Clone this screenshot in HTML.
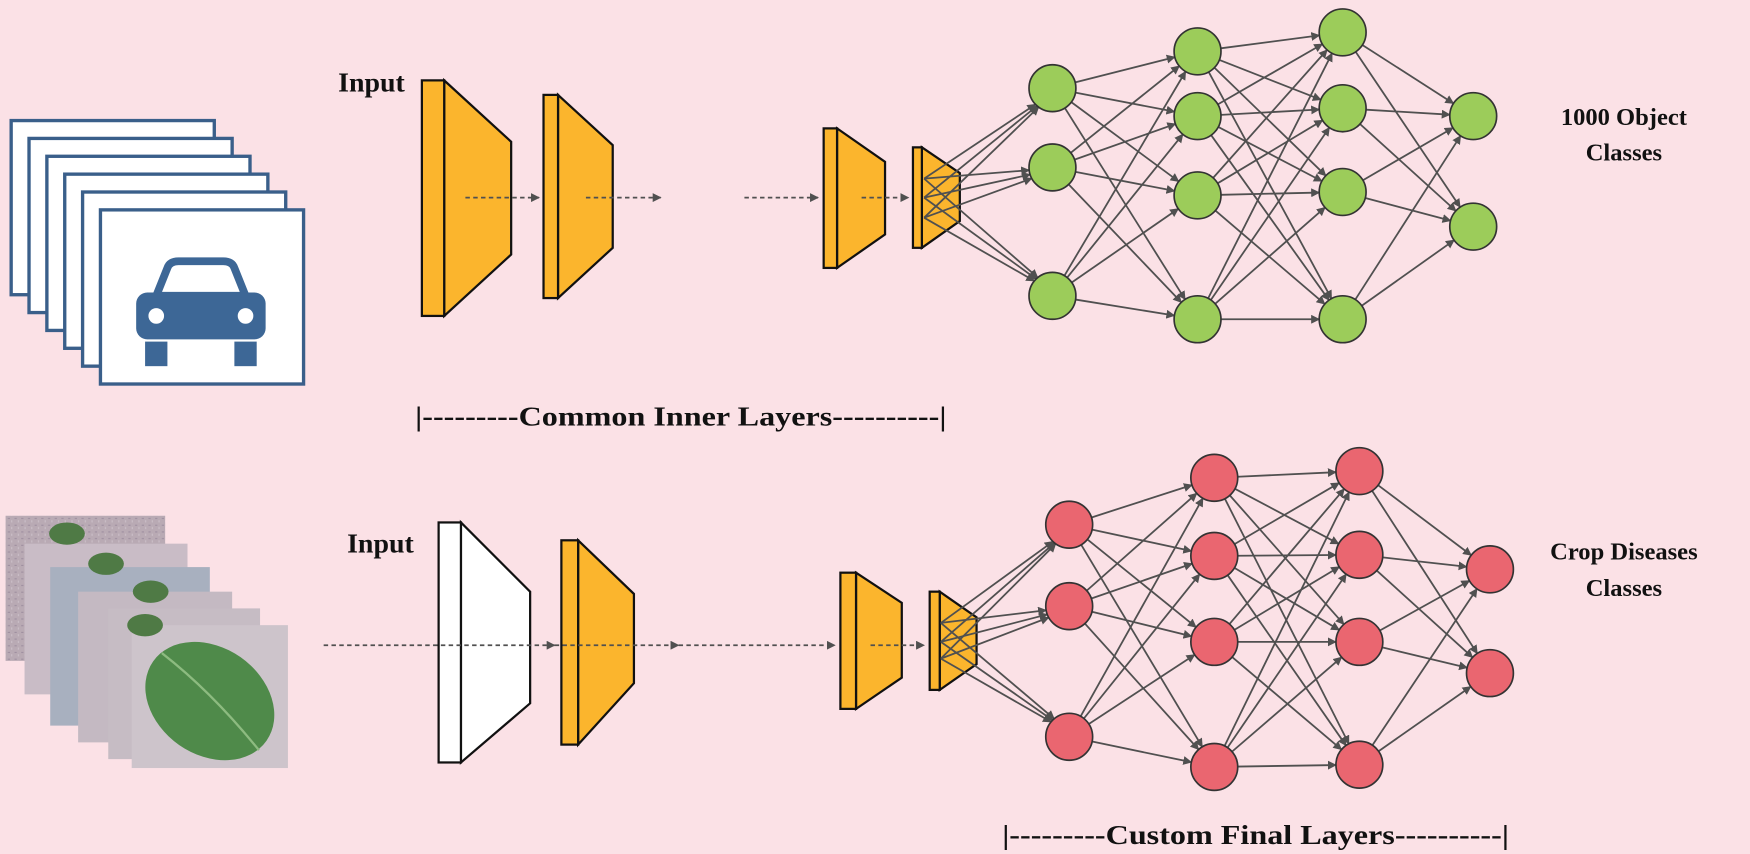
<!DOCTYPE html>
<html><head><meta charset="utf-8"><style>
html,body{margin:0;padding:0;background:#fbe1e6;}
svg{display:block;}
text{font-family:"Liberation Serif",serif;font-weight:bold;fill:#111;}
</style></head><body>
<svg id="s" width="1750" height="854" viewBox="0 0 1568 765" preserveAspectRatio="none" xmlns="http://www.w3.org/2000/svg">
<defs>
<marker id="ah" viewBox="0 0 10 10" refX="9" refY="5" markerWidth="5" markerHeight="5" orient="auto"><path d="M0,0L10,5L0,10z" fill="#505050"/></marker>
<pattern id="noise" width="6" height="6" patternUnits="userSpaceOnUse"><rect width="6" height="6" fill="#b9aab4"/><rect x="1" y="2" width="2" height="1" fill="#9f8fa0"/><rect x="4" y="4" width="1" height="2" fill="#cbbfc8"/></pattern>
</defs>
<rect width="1568" height="765" fill="#fbe1e6"/>
<g id="car"></g>
<g id="leaf"></g>
<g id="traps"></g>
<g id="edges" stroke="#505050" stroke-width="1.6" fill="none"></g>
<g id="nodes"></g>
<text x="303" y="82" font-size="25">Input</text>
<text x="311" y="495" font-size="25">Input</text>
<text x="1455" y="112" font-size="22" text-anchor="middle">1000 Object</text>
<text x="1455" y="144" font-size="22" text-anchor="middle">Classes</text>
<text x="1455" y="501" font-size="22" text-anchor="middle">Crop Diseases</text>
<text x="1455" y="534" font-size="22" text-anchor="middle">Classes</text>
<text x="372" y="381" font-size="25" textLength="476" lengthAdjust="spacingAndGlyphs">|---------Common Inner Layers----------|</text>
<text x="898" y="756" font-size="25" textLength="454" lengthAdjust="spacingAndGlyphs">|---------Custom Final Layers----------|</text>
</svg>
<script>
const NS="http://www.w3.org/2000/svg";
function el(p,t,a){const e=document.createElementNS(NS,t);for(const k in a)e.setAttribute(k,a[k]);document.getElementById(p).appendChild(e);return e;}
for(let i=0;i<6;i++){el("car","rect",{x:10+16*i,y:108+16*i,width:182,height:156,fill:"#fff",stroke:"#3a5f8a","stroke-width":3});}
const cb="#3d6796";
el("car","path",{d:"M140,265 L150,240 Q152,234 160,234 L200,234 Q208,234 210,240 L220,265 Z",fill:"none",stroke:cb,"stroke-width":7});
el("car","rect",{x:122,y:262,width:116,height:42,rx:10,fill:cb});
el("car","circle",{cx:140,cy:283,r:7,fill:"#fff"});
el("car","circle",{cx:220,cy:283,r:7,fill:"#fff"});
el("car","rect",{x:130,y:306,width:20,height:22,fill:cb});
el("car","rect",{x:210,y:306,width:20,height:22,fill:cb});
const lf=[[5,462,143,130,"url(#noise)"],[22,487,146,135,"#c9bcc6"],[45,508,143,142,"#a8b0bf"],[70,530,138,135,"#c4b9c2"],[97,545,136,135,"#c6bcc4"],[118,560,140,128,"#cdc4cb"]];
lf.forEach(f=>el("leaf","rect",{x:f[0],y:f[1],width:f[2],height:f[3],fill:f[4]}));
[[60,478],[95,505],[135,530],[130,560]].forEach(p=>el("leaf","ellipse",{cx:p[0],cy:p[1],rx:16,ry:10,fill:"#4f7a45"}));
el("leaf","ellipse",{cx:188,cy:628,rx:62,ry:48,fill:"#4f8a4a",transform:"rotate(35 188 628)"});
el("leaf","path",{d:"M145,585 Q190,620 232,672",stroke:"#8dbb80","stroke-width":2,fill:"none"});
function trap(x1,x2,y1,y2,bx,by1,by2,fill){
 el("traps","path",{d:`M${x2},${y1} L${bx},${by1} L${bx},${by2} L${x2},${y2} Z`,fill:fill,stroke:"#111","stroke-width":2});
 el("traps","rect",{x:x1,y:y1,width:x2-x1,height:y2-y1,fill:fill,stroke:"#111","stroke-width":2});
}
const Y="#fbb52d";
trap(378,398,72,283,458,127,228,Y);
trap(487,500,85,267,549,130,222,Y);
trap(738,750,115,240,793,145,210,Y);
trap(818,826,132,222,860,155,198,Y);
trap(393,413,468,683,475,530,630,"#fff");
trap(503,518,484,667,568,532,612,Y);
trap(753,767,513,635,808,540,607,Y);
trap(833,842,530,618,875,553,595,Y);
function dash(x1,x2,y){el("edges","line",{x1:x1,y1:y,x2:x2,y2:y,"stroke-dasharray":"4,3","marker-end":"url(#ah)"});}
dash(417,483,177);dash(525,592,177);dash(667,733,177);dash(772,814,177);
dash(290,497,578);dash(497,608,578);dash(608,748,578);dash(780,828,578);
function net(first,layers,color,tx,tys){
 const r=21;
 tys.forEach(ty=>layers[0].ys.forEach(y=>{
   const dx=layers[0].x-tx,dy=y-ty,d=Math.hypot(dx,dy);
   el("edges","line",{x1:tx-30,y1:ty,x2:layers[0].x-dx/d*r,y2:y-dy/d*r,"marker-end":"url(#ah)"});
 }));
 for(let l=0;l<layers.length-1;l++){
  const A=layers[l],B=layers[l+1];
  A.ys.forEach(ya=>B.ys.forEach(yb=>{
   const dx=B.x-A.x,dy=yb-ya,d=Math.hypot(dx,dy);
   el("edges","line",{x1:A.x+dx/d*r,y1:ya+dy/d*r,x2:B.x-dx/d*r,y2:yb-dy/d*r,"marker-end":"url(#ah)"});
  }));
 }
 layers.forEach(L=>L.ys.forEach(y=>el("nodes","circle",{cx:L.x,cy:y,r:r,fill:color,stroke:"#333","stroke-width":1.5})));
}
net(0,[{x:943,ys:[79,150,265]},{x:1073,ys:[46,104,175,286]},{x:1203,ys:[29,97,172,286]},{x:1320,ys:[104,203]}],"#9ccc5a",858,[160,177,195]);
net(0,[{x:958,ys:[470,543,660]},{x:1088,ys:[428,498,575,687]},{x:1218,ys:[422,497,575,685]},{x:1335,ys:[510,603]}],"#ea6670",873,[558,575,590]);
</script>
</body></html>
